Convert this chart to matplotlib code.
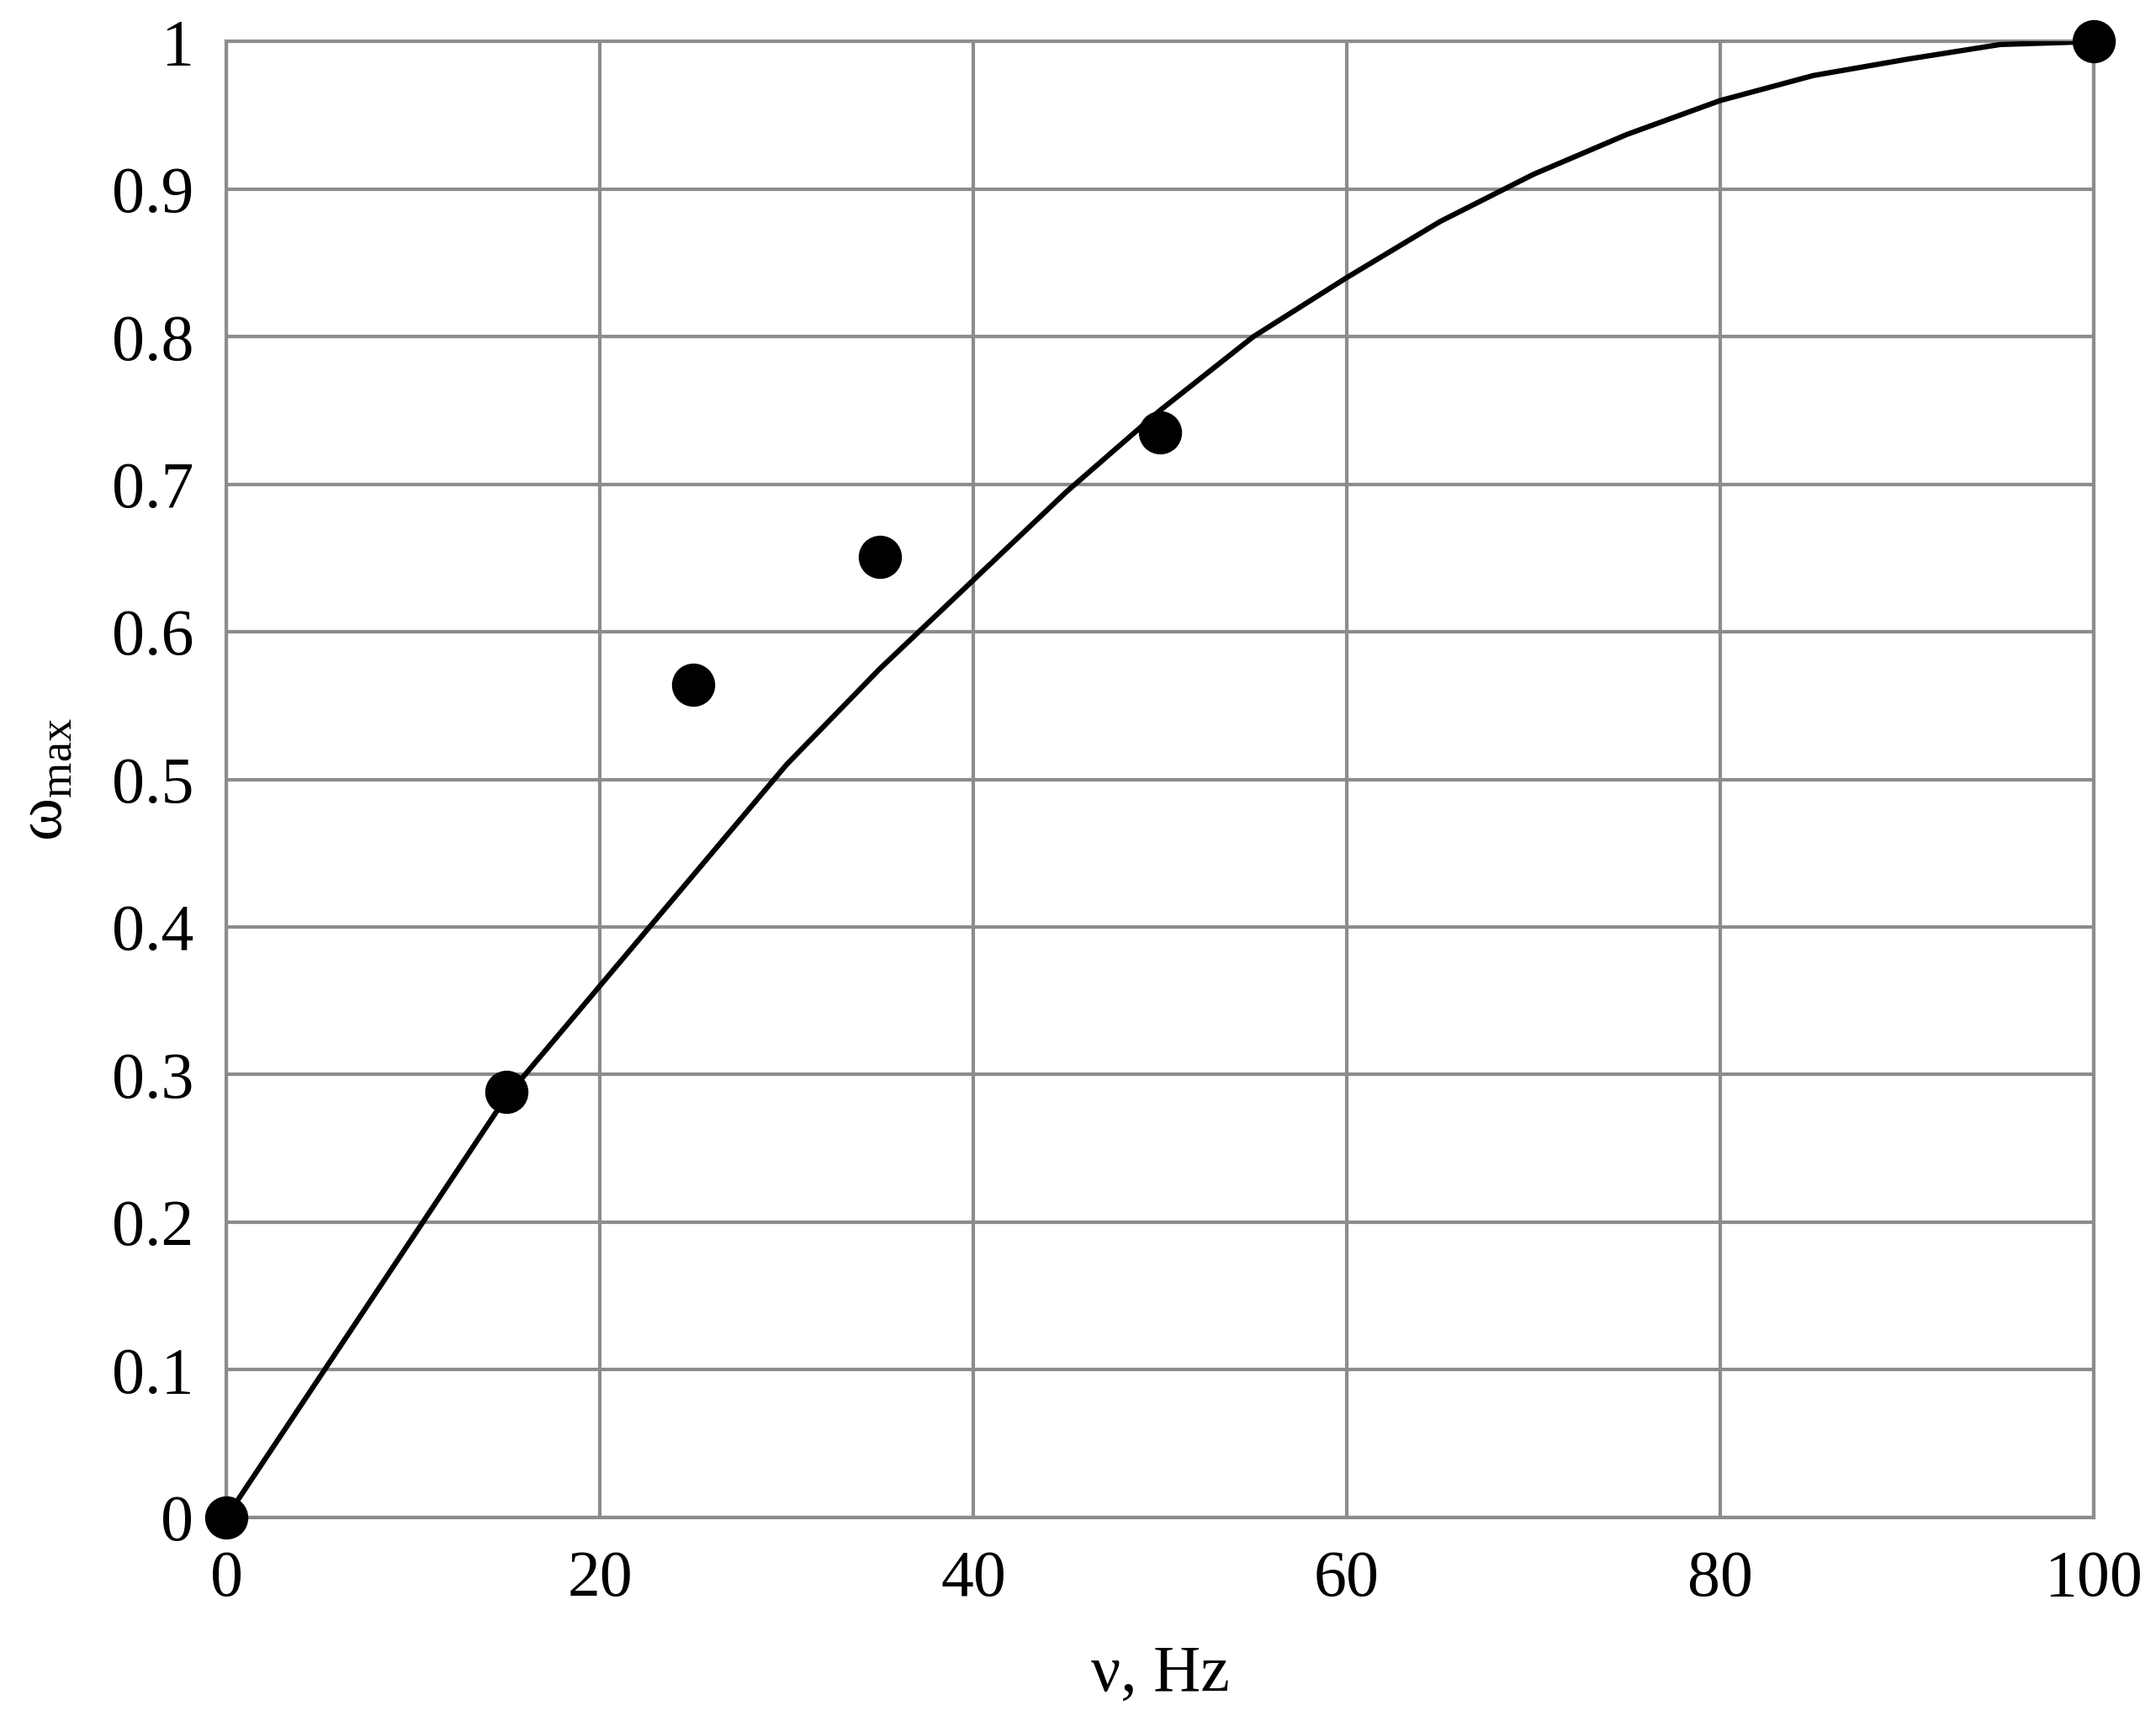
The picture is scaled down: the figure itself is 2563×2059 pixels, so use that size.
import matplotlib
matplotlib.use("Agg")
import matplotlib.pyplot as plt

curve_x = [0,5,10,15,20,25,30,35,40,45,50,55,60,65,70,75,80,85,90,95,100]
curve_y = [0,0.095,0.19,0.285,0.36,0.435,0.51,0.575,0.635,0.695,0.75,0.80,0.84,0.878,0.91,0.937,0.96,0.977,0.988,0.998,1.0]
pts_x = [0,15,25,35,50,100]
pts_y = [0,0.288,0.564,0.651,0.735,1.0]

plt.rcParams['font.family'] = ['Liberation Serif', 'DejaVu Serif']
fig = plt.figure(figsize=(25.63,20.59), dpi=100)
ax = fig.add_axes([0.105,0.124,0.866,0.852])
ax.plot(curve_x, curve_y, color='black', lw=4.5, zorder=3, solid_joinstyle='round')
ax.plot(pts_x, pts_y, 'o', color='black', ms=36, zorder=4, clip_on=False)
ax.set_xlim(0,100); ax.set_ylim(0,1)
ax.set_xticks(range(0,101,20)); ax.set_yticks([i/10 for i in range(11)])
ax.set_yticklabels(['0']+[f'{i/10:g}' for i in range(1,10)]+['1'])
ax.grid(True, color='#8c8c8c', lw=3)
for s in ax.spines.values():
    s.set_color('#8c8c8c'); s.set_linewidth(3)
ax.tick_params(length=0, labelsize=56, pad=28)
ax.set_xlabel('ν, Hz', fontsize=56, labelpad=30)
ax.set_ylabel(r'ω$_{\mathregular{max}}$', fontsize=56, labelpad=30)
fig.savefig('out.png', dpi=100)
